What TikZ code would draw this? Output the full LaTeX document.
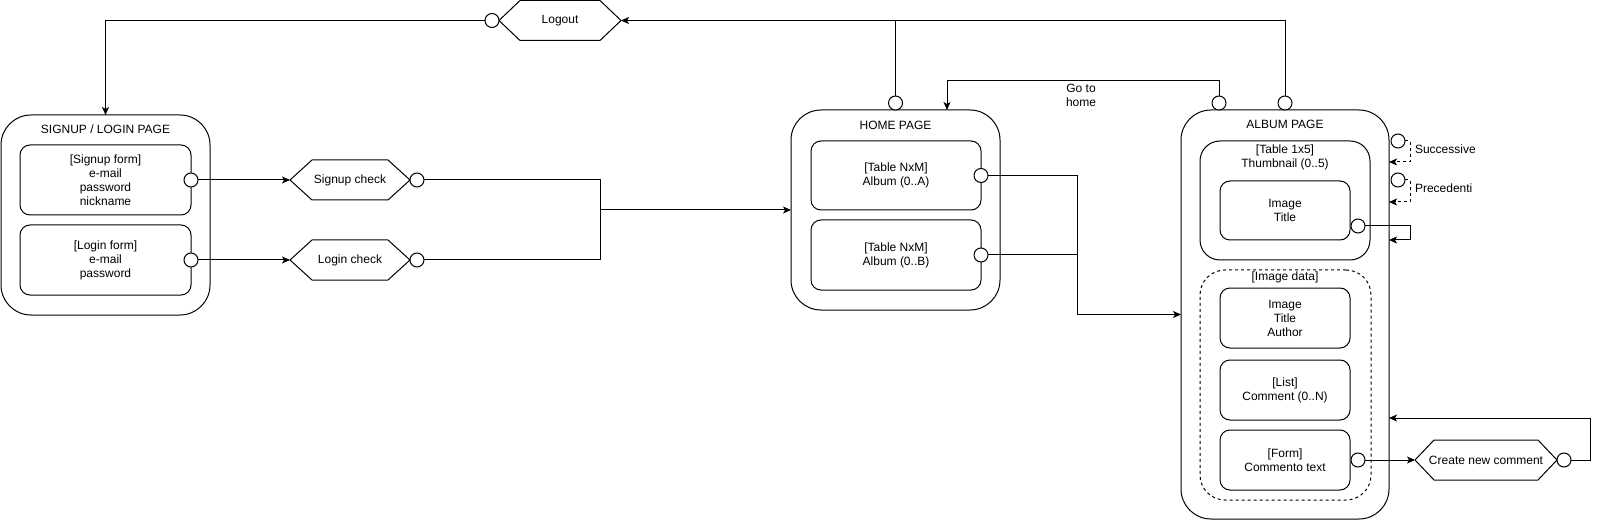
\documentclass[tikz,border=0pt]{standalone}
\usepackage{fontspec}
\setmainfont{Liberation Sans}
\usetikzlibrary{arrows.meta,calc}
\tikzset{
  every node/.style={font=\fontsize{12pt}{14pt}\selectfont, align=center, inner sep=0pt, outer sep=0pt},
  pagebox/.style={draw, rounded corners=30pt, line width=1pt},
  ibox/.style={draw, rounded corners=10pt, line width=1pt},
  port/.style={draw, circle, fill=white, minimum size=14pt, line width=1pt},
  hexbox/.style={minimum height=40pt},
  conn/.style={line width=1pt},
  arr/.style={conn, -{Stealth[length=8pt,width=7pt,inset=2pt]}},
  dconn/.style={conn, dash pattern=on 3pt off 3pt, -{Stealth[length=8pt,width=7pt,inset=2pt]}},
}
\newcommand\hexoutline[2]{%
  \draw[line width=1pt] (#1.west) -- ([xshift=#2]#1.north west) -- ([xshift=-#2]#1.north east)
    -- (#1.east) -- ([xshift=-#2]#1.south east) -- ([xshift=#2]#1.south west) -- cycle;}
\begin{document}
\begin{tikzpicture}[x=1pt,y=-1pt]
\useasboundingbox (0,0) rectangle (1600,521);

% ---------- Signup / login page
\node[pagebox, minimum width=209pt, minimum height=200pt] (signup) at (105.5,215) {};
\node (signupT) at (105.5,129) {SIGNUP / LOGIN PAGE};
\node[ibox, minimum width=171pt, minimum height=70pt] (sf) at (105.5,180) {[Signup form]\\e-mail\\password\\nickname};
\node[ibox, minimum width=171pt, minimum height=70pt] (lf) at (105.5,260) {[Login form]\\e-mail\\password};
\node[port] (sfp) at (sf.east) {};
\node[port] (lfp) at (lf.east) {};

% ---------- checks
\node[hexbox, minimum width=120pt] (sc) at (350,180) {Signup check};
\hexoutline{sc}{22pt}
\node[hexbox, minimum width=120pt] (lc) at (350,260) {Login check};
\hexoutline{lc}{22pt}
\node[port] (scp) at ($(sc.east)+(7,0)$) {};
\node[port] (lcp) at ($(lc.east)+(7,0)$) {};

% ---------- Logout
\node[hexbox, minimum width=122pt] (lo) at (560,20.5) {Logout};
\hexoutline{lo}{21pt}
\node[port] (lop) at ($(lo.west)+(-7,0)$) {};

% ---------- Home page
\node[pagebox, minimum width=209pt, minimum height=200pt] (home) at (895.5,210) {};
\node (homeT) at (895.5,125) {HOME PAGE};
\node[ibox, minimum width=170pt, minimum height=69pt] (hb1) at (896,175.5) {[Table NxM]\\Album (0..A)};
\node[ibox, minimum width=170pt, minimum height=70pt] (hb2) at (896,255) {[Table NxM]\\Album (0..B)};
\node[port] (hp1) at (hb1.east) {};
\node[port] (hp2) at (hb2.east) {};
\node[port] (htp) at (895.5,103) {};

% ---------- Album page
\node[pagebox, minimum width=208pt, minimum height=409pt] (album) at (1285,314.5) {};
\node (albumT) at (1285,124.5) {ALBUM PAGE};
\node[port] (ac1) at (1219,103) {};
\node[port] (ac2) at (1285,103) {};
\node[draw, line width=1pt, rounded corners=20pt, minimum width=170pt, minimum height=119pt] (tb) at (1285,200.5) {};
\node (tbT) at (1285,157) {[Table 1x5]\\Thumbnail (0..5)};
\node[ibox, minimum width=130pt, minimum height=59pt] (itb) at (1285,210.5) {Image\\Title};
\node[port] (itp) at (1358,226) {};
\node[draw, line width=1pt, dash pattern=on 3pt off 3pt, rounded corners=25pt, minimum width=171pt, minimum height=230pt] (idb) at (1285.5,385) {};
\node (idbT) at (1285,277) {[Image data]};
\node[ibox, minimum width=130pt, minimum height=60pt] (ib1) at (1285,318) {Image\\Title\\Author};
\node[ibox, minimum width=130pt, minimum height=60pt] (ib2) at (1285,390) {[List]\\Comment (0..N)};
\node[ibox, minimum width=130pt, minimum height=60pt] (ib3) at (1285,460) {[Form]\\Commento text};
\node[port] (fp) at (1358,460) {};

\node[port] (sp) at (1398,141) {};
\node[port] (pp) at (1398,180) {};
\node[anchor=west] (succL) at (1415,149) {Successive};
\node[anchor=west] (precL) at (1415,188) {Precedenti};

% ---------- Create new comment
\node[hexbox, minimum width=142pt] (cc) at (1486,460) {Create new comment};
\hexoutline{cc}{19pt}
\node[port] (ccp) at ($(cc.east)+(7,0)$) {};

% ---------- coordinates
\coordinate (merge) at (600,210);
\coordinate (jn) at (1077,314.5);
\coordinate (gtop) at (947,81);
\coordinate (gh) at (947,110);
\coordinate (sr1) at (1410,141);
\coordinate (st1) at (1389,162);
\coordinate (sr2) at (1410,180);
\coordinate (st2) at (1389,202);
\coordinate (ir) at (1410,226);
\coordinate (it) at (1389,240);
\coordinate (cr) at (1590,460);
\coordinate (ct) at (1389,418);

% ---------- connectors
\draw[arr] (sfp.east) -- (sc.west);
\draw[arr] (lfp.east) -- (lc.west);
\draw[conn] (scp.east) -| (merge);
\draw[conn] (lcp.east) -| (merge);
\draw[arr] (merge) -- (home.west);
\draw[arr] (lop.west) -| (signup.north);
\draw[arr] (ac2.north) |- (lo.east);
\draw[conn] (htp.north) -- (htp.north |- lo.east);
\draw[arr] (ac1.north) |- (gtop) -- (gh);
\node (goL) at (1081,95) {Go to\\home};
\draw[conn] (hp1.east) -| (jn);
\draw[conn] (hp2.east) -- (hp2.east -| jn);
\draw[arr] (jn) -- (album.west);
\draw[dconn] (sp.east) -- (sr1) |- (st1);
\draw[dconn] (pp.east) -- (sr2) |- (st2);
\draw[arr] (itp.east) -- (ir) |- (it);
\draw[arr] (fp.east) -- (cc.west);
\draw[arr] (ccp.east) -- (cr) |- (ct);
\end{tikzpicture}
\end{document}
